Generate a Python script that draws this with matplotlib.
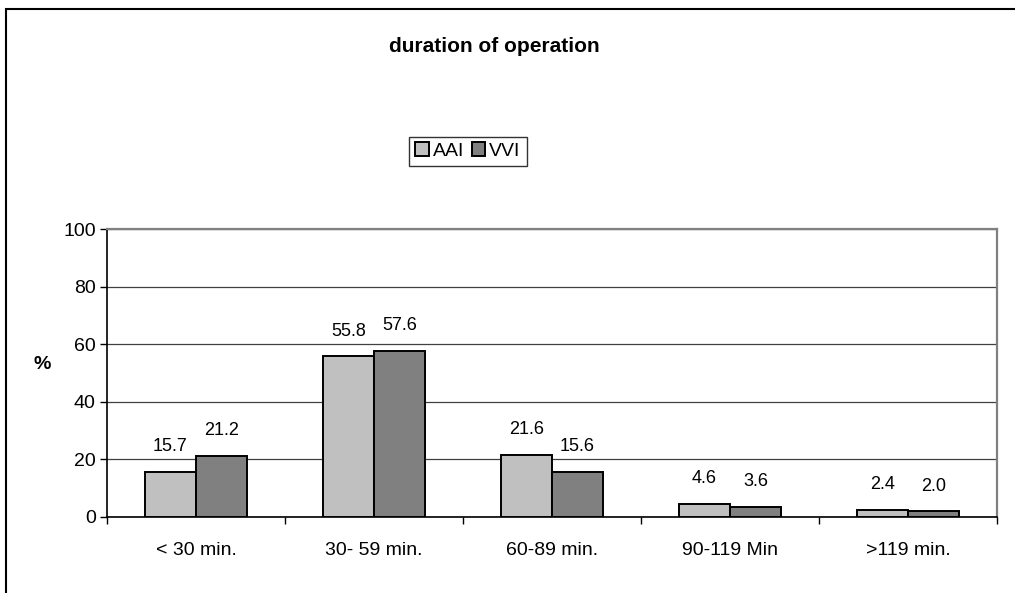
import matplotlib.pyplot as plt
import numpy as np
from matplotlib.patches import Rectangle

plt.rcParams['font.family'] = ['Liberation Sans', 'DejaVu Sans']

# duración de la operación, porcentaje por grupo
categorias = ['< 30 min.', '30- 59 min.', '60-89 min.', '90-119 Min', '>119 min.']
aai = [15.7, 55.8, 21.6, 4.6, 2.4]
vvi = [21.2, 57.6, 15.6, 3.6, 2.0]
y_ticks = [0, 20, 40, 60, 80, 100]

fig = plt.figure(figsize=(10.15, 5.93), dpi=100)
ax = fig.add_axes([0.1054, 0.1282, 0.8769, 0.4856])

x = np.arange(len(categorias))
ancho = 0.287

barras_aai = ax.bar(x - ancho / 2, aai, ancho, color='#C0C0C0', edgecolor='black',
                    linewidth=1.4, label='AAI', zorder=3)
barras_vvi = ax.bar(x + ancho / 2, vvi, ancho, color='#808080', edgecolor='black',
                    linewidth=1.4, label='VVI', zorder=3)

# etiquetas con el valor encima de cada barra
for barras, valores in [(barras_aai, aai), (barras_vvi, vvi)]:
    for b, v in zip(barras, valores):
        ax.annotate(f'{v:.1f}', (b.get_x() + b.get_width() / 2, v),
                    xytext=(0, 12), textcoords='offset points',
                    ha='center', va='bottom', fontsize=13)

ax.set_xlim(-0.5, len(categorias) - 0.5)
ax.set_ylim(0, 100)
ax.set_yticks(y_ticks)
ax.tick_params(axis='y', labelsize=14, direction='out', length=5, width=1, pad=3)

# ticks en los bordes de las categorias, etiquetas en el centro
ax.set_xticks(np.arange(-0.5, len(categorias), 1.0))
ax.set_xticklabels([])
ax.set_xticks(x, minor=True)
ax.set_xticklabels(categorias, minor=True, fontsize=14)
ax.tick_params(axis='x', which='major', direction='out', length=5, width=1)
ax.tick_params(axis='x', which='minor', length=0, pad=18)

ax.yaxis.grid(True, color='#404040', linewidth=0.9, zorder=0)
ax.set_axisbelow(True)

ax.spines['left'].set_color('black')
ax.spines['bottom'].set_color('black')
ax.spines['left'].set_linewidth(1.2)
ax.spines['bottom'].set_linewidth(1.2)
ax.spines['top'].set_color('#808080')
ax.spines['right'].set_color('#808080')
ax.spines['top'].set_linewidth(1.6)
ax.spines['right'].set_linewidth(1.6)

ax.set_ylabel('%', fontsize=14, fontweight='bold', rotation=0, labelpad=0)
ax.yaxis.set_label_coords(-0.073, 0.5)

fig.text(0.487, 0.921, 'duration of operation', ha='center', va='center',
         fontsize=15, fontweight='bold')

leg = fig.legend(handles=[barras_aai, barras_vvi], labels=['AAI', 'VVI'],
                 loc='center', bbox_to_anchor=(0.461, 0.745), ncol=2,
                 fontsize=14, frameon=True, fancybox=False,
                 handlelength=0.7, handleheight=0.7, handletextpad=0.2,
                 columnspacing=0.4, borderpad=0.3)
leg.get_frame().set_edgecolor('black')
leg.get_frame().set_linewidth(1.0)

# marco exterior del grafico
fig.add_artist(Rectangle((6 / 1015, -0.1), 1.2, 1 - 9 / 593 + 0.1,
                         transform=fig.transFigure, fill=False,
                         edgecolor='black', linewidth=1.5))

fig.savefig('out.png', dpi=100)
